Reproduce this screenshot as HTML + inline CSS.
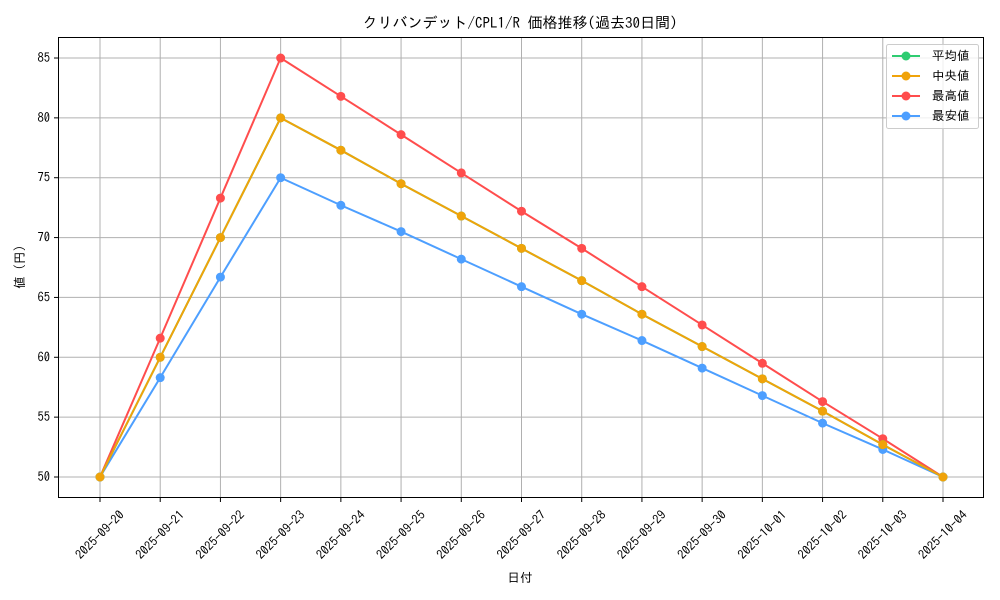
<!DOCTYPE html>
<html><head><meta charset="utf-8"><style>
body{margin:0;background:#fff}
svg{display:block;font-family:"IPAGothic","Liberation Sans","Noto Sans CJK JP",sans-serif}
</style></head><body>
<svg width="1000" height="600" viewBox="0 0 1000 600" xmlns="http://www.w3.org/2000/svg">
<rect width="1000" height="600" fill="#fff"/>
<text x="520" y="28" font-size="15" text-anchor="middle" fill="#000">クリバンデット/CPL1/R 価格推移(過去30日間)</text>
<g id="grid" stroke="#b0b0b0" stroke-width="1"></g>
<rect x="58.5" y="37.5" width="925" height="460" fill="none" stroke="#000" stroke-width="1"/>
<g id="ticks" font-size="12.5" fill="#000"></g>
<text x="520" y="582" font-size="12.5" text-anchor="middle">日付</text>
<text transform="translate(24,267) rotate(-90)" font-size="12.5" text-anchor="middle">値 (円)</text>
<g id="series"></g>
<g font-size="12.5">
<rect x="886.5" y="44.5" width="92" height="84" fill="#fff" fill-opacity="0.8" stroke="#ccc" rx="2"/>
<line x1="892" y1="56" x2="920" y2="56" stroke="#2ecc71" stroke-width="2"/><circle cx="906" cy="56" r="4.5" fill="#2ecc71"/><text x="932" y="60">平均値</text>
<line x1="892" y1="76" x2="920" y2="76" stroke="#f0a30a" stroke-width="2"/><circle cx="906" cy="76" r="4.5" fill="#f0a30a"/><text x="932" y="80">中央値</text>
<line x1="892" y1="96" x2="920" y2="96" stroke="#ff4d4d" stroke-width="2"/><circle cx="906" cy="96" r="4.5" fill="#ff4d4d"/><text x="932" y="100">最高値</text>
<line x1="892" y1="116" x2="920" y2="116" stroke="#4d9fff" stroke-width="2"/><circle cx="906" cy="116" r="4.5" fill="#4d9fff"/><text x="932" y="120">最安値</text>
</g>
</svg>
<script>
const NS="http://www.w3.org/2000/svg";
const X=i=>100+i*60.214, Y=v=>477-(v-50)*11.971;
const g=document.getElementById('grid'),t=document.getElementById('ticks'),s=document.getElementById('series');
function el(p,n,a,txt){const e=document.createElementNS(NS,n);for(const k in a)e.setAttribute(k,a[k]);if(txt)e.textContent=txt;p.appendChild(e);return e;}
const dates=["2025-09-20","2025-09-21","2025-09-22","2025-09-23","2025-09-24","2025-09-25","2025-09-26","2025-09-27","2025-09-28","2025-09-29","2025-09-30","2025-10-01","2025-10-02","2025-10-03","2025-10-04"];
dates.forEach((d,i)=>{const x=X(i);el(g,'line',{x1:x,y1:37.5,x2:x,y2:497.5});el(t,'line',{x1:x,y1:497.5,x2:x,y2:502,stroke:'#000'});
el(t,'text',{transform:`translate(${x},${535}) rotate(-45)`,'text-anchor':'middle',dy:4},d);});
for(let v=50;v<=85;v+=5){const y=Y(v);el(g,'line',{x1:58.5,y1:y,x2:983.5,y2:y});el(t,'line',{x1:54,y1:y,x2:58.5,y2:y,stroke:'#000'});el(t,'text',{x:50,y:y+4,'text-anchor':'end'},String(v));}
const data=[
["#ff4d4d",[50,61.6,73.3,85,81.8,78.6,75.4,72.2,69.1,65.9,62.7,59.5,56.3,53.2,50]],
["#4d9fff",[50,58.3,66.7,75,72.7,70.5,68.2,65.9,63.6,61.4,59.1,56.8,54.5,52.3,50]],
["#2ecc71",[50,60,70,80,77.3,74.5,71.8,69.1,66.4,63.6,60.9,58.2,55.5,52.7,50]],
["#f0a30a",[50,60,70,80,77.3,74.5,71.8,69.1,66.4,63.6,60.9,58.2,55.5,52.7,50]]];
data.forEach(([c,a])=>{el(s,'polyline',{points:a.map((v,i)=>X(i)+','+Y(v)).join(' '),fill:'none',stroke:c,'stroke-width':2});
a.forEach((v,i)=>el(s,'circle',{cx:X(i),cy:Y(v),r:4.5,fill:c}));});
</script>
</body></html>
